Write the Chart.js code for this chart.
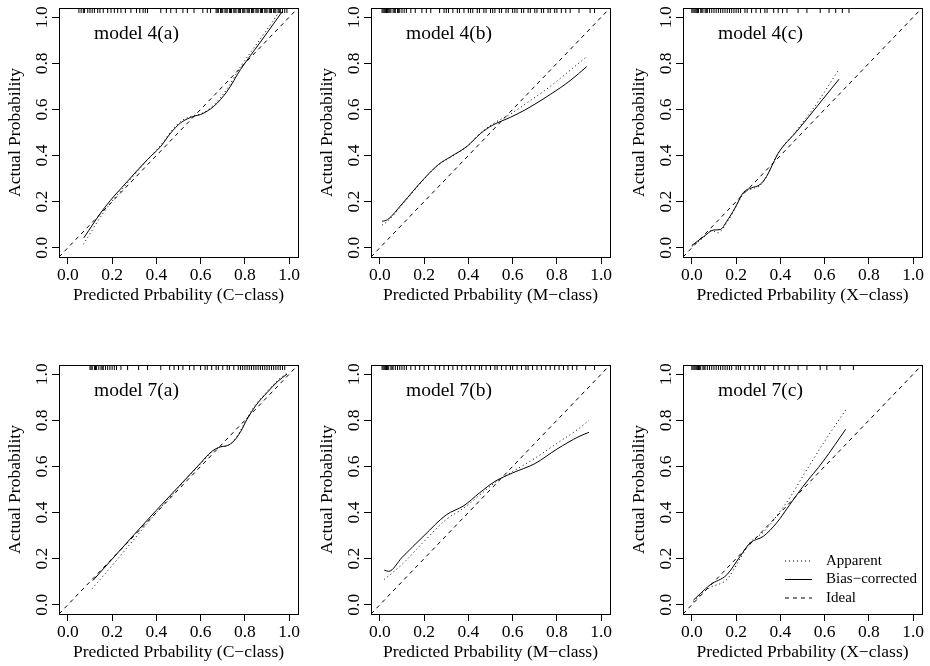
<!DOCTYPE html>
<html>
<head>
<meta charset="utf-8">
<script src="https://cdn.jsdelivr.net/npm/chart.js@4"></script>
<style>
  body { margin: 0; background: #fff; width: 930px; height: 666px; overflow: hidden; position: relative; }
  canvas { position: absolute; }
</style>
</head>
<body>
<canvas id="p0" width="310" height="309" style="left:0px;top:0px"></canvas>
<canvas id="p1" width="310" height="309" style="left:310px;top:0px"></canvas>
<canvas id="p2" width="310" height="309" style="left:620px;top:0px"></canvas>
<canvas id="p3" width="310" height="309" style="left:0px;top:357px"></canvas>
<canvas id="p4" width="310" height="309" style="left:310px;top:357px"></canvas>
<canvas id="p5" width="310" height="309" style="left:620px;top:357px"></canvas>
<script>
// calibration curves: [predicted, actual]
var apparent4a = [[0.07,0.015],[0.165,0.158],[0.27,0.282],[0.36,0.382],[0.42,0.445],[0.465,0.503],[0.51,0.548],[0.57,0.574],[0.60,0.58],[0.66,0.62],[0.72,0.69],[0.78,0.785],[0.84,0.866],[0.90,0.946],[0.96,1.03]];
var biasCorr4a = [[0.072,0.043],[0.165,0.173],[0.27,0.289],[0.36,0.383],[0.42,0.44],[0.465,0.498],[0.51,0.542],[0.57,0.571],[0.60,0.578],[0.66,0.614],[0.72,0.679],[0.78,0.773],[0.84,0.853],[0.90,0.932],[0.97,1.026]];
var apparent4b = [[0.01,0.098],[0.035,0.115],[0.1,0.185],[0.2,0.298],[0.266,0.36],[0.32,0.393],[0.394,0.44],[0.454,0.497],[0.51,0.537],[0.59,0.58],[0.66,0.625],[0.77,0.7],[0.86,0.77],[0.932,0.827]];
var biasCorr4b = [[0.01,0.115],[0.035,0.122],[0.1,0.19],[0.2,0.3],[0.266,0.362],[0.32,0.395],[0.394,0.44],[0.454,0.495],[0.51,0.532],[0.59,0.566],[0.66,0.6],[0.77,0.665],[0.86,0.725],[0.935,0.786]];
var apparent4c = [[0.0,0.005],[0.053,0.045],[0.09,0.075],[0.12,0.065],[0.158,0.11],[0.195,0.17],[0.233,0.235],[0.27,0.255],[0.308,0.27],[0.338,0.31],[0.368,0.37],[0.39,0.41],[0.474,0.51],[0.564,0.625],[0.632,0.725],[0.665,0.775]];
var biasCorr4c = [[0.0,0.01],[0.053,0.048],[0.098,0.077],[0.128,0.079],[0.158,0.115],[0.195,0.173],[0.233,0.24],[0.27,0.26],[0.308,0.274],[0.338,0.31],[0.368,0.368],[0.39,0.41],[0.474,0.505],[0.564,0.611],[0.632,0.692],[0.665,0.731]];
var apparent7a = [[0.11,0.07],[0.2,0.17],[0.3,0.285],[0.4,0.4],[0.5,0.508],[0.6,0.612],[0.65,0.662],[0.69,0.685],[0.72,0.69],[0.75,0.712],[0.78,0.755],[0.81,0.81],[0.85,0.87],[0.9,0.925],[0.95,0.975],[0.99,1.005]];
var biasCorr7a = [[0.113,0.105],[0.2,0.198],[0.3,0.305],[0.4,0.41],[0.5,0.512],[0.6,0.615],[0.65,0.665],[0.69,0.685],[0.72,0.69],[0.75,0.71],[0.78,0.75],[0.81,0.805],[0.85,0.865],[0.9,0.92],[0.95,0.97],[0.99,1.0]];
var apparent7b = [[0.02,0.11],[0.1,0.175],[0.2,0.275],[0.3,0.37],[0.38,0.42],[0.45,0.475],[0.52,0.53],[0.6,0.578],[0.7,0.635],[0.8,0.7],[0.9,0.765],[0.945,0.8]];
var biasCorr7b = [[0.02,0.15],[0.04,0.145],[0.1,0.205],[0.2,0.3],[0.3,0.39],[0.38,0.43],[0.45,0.485],[0.52,0.535],[0.6,0.572],[0.7,0.612],[0.8,0.675],[0.9,0.73],[0.945,0.748]];
var apparent7c = [[0.007,0.012],[0.04,0.045],[0.083,0.075],[0.158,0.11],[0.218,0.2],[0.263,0.27],[0.323,0.315],[0.383,0.385],[0.443,0.465],[0.503,0.56],[0.594,0.7],[0.695,0.845]];
var biasCorr7c = [[0.007,0.02],[0.04,0.05],[0.083,0.087],[0.158,0.13],[0.218,0.21],[0.263,0.268],[0.323,0.297],[0.383,0.355],[0.443,0.435],[0.503,0.514],[0.594,0.623],[0.695,0.761]];
var idealLine = [[-0.04,-0.04],[1.04,1.04]];

// rug of predicted probabilities along the top
var rug4a = [0.05,0.06,0.07,0.075,0.09,0.10,0.11,0.12,0.135,0.145,0.16,0.18,0.195,0.21,0.225,0.24,0.26,0.285,0.31,0.325,0.34,0.35,0.36,0.42,0.445,0.465,0.49,0.52,0.54,0.57,0.61,0.63,0.645,
  0.67,0.675,0.68,0.69,0.695,0.70,0.71,0.715,0.72,0.73,0.735,0.74,0.75,0.755,0.76,0.77,0.775,0.78,0.79,0.795,0.80,0.81,0.815,0.82,0.83,0.835,0.84,0.85,0.855,0.86,0.87,0.875,0.88,0.89,0.895,0.90,0.91,0.915,0.92,0.93,0.935,0.94,0.95,0.955,0.96,0.97,0.98,0.99];
var rug4b = [0.01,0.015,0.02,0.025,0.03,0.035,0.04,0.045,0.05,0.06,0.065,0.07,0.08,0.085,0.09,0.1,0.11,0.12,0.14,0.16,0.19,0.21,0.23,0.27,0.29,0.3,0.31,0.33,0.35,0.36,0.38,0.4,0.41,0.42,0.44,0.45,0.47,0.48,0.5,0.51,0.52,0.54,0.55,0.57,0.58,0.6,0.61,0.62,0.64,0.65,0.67,0.68,0.7,0.71,0.73,0.74,0.76,0.77,0.79,0.8,0.82,0.84,0.86,0.9,0.95,0.97];
var rug4c = [0.0,0.005,0.01,0.015,0.02,0.025,0.03,0.04,0.045,0.05,0.06,0.065,0.07,0.08,0.09,0.1,0.11,0.12,0.13,0.14,0.15,0.16,0.17,0.18,0.19,0.2,0.21,0.22,0.24,0.25,0.27,0.29,0.31,0.33,0.34,0.37,0.39,0.41,0.43,0.48,0.52,0.58,0.62,0.65,0.68,0.71];
var rug7a = [0.1,0.105,0.11,0.12,0.125,0.13,0.14,0.15,0.155,0.16,0.17,0.18,0.19,0.2,0.21,0.22,0.24,0.27,0.32,0.36,0.42,0.46,0.48,0.5,0.52,0.55,0.57,0.6,0.62,0.63,0.65,0.67,0.68,0.7,0.72,0.73,0.75,
  0.77,0.78,0.79,0.8,0.81,0.82,0.83,0.84,0.85,0.86,0.87,0.88,0.89,0.9,0.91,0.92,0.93,0.94,0.95,0.96,0.97,0.98];
var rug7b = [0.01,0.015,0.02,0.025,0.03,0.035,0.04,0.05,0.055,0.06,0.07,0.08,0.09,0.1,0.11,0.12,0.14,0.16,0.18,0.2,0.22,0.25,0.27,0.29,0.31,0.33,0.35,0.37,0.39,0.41,0.43,0.45,0.46,0.48,0.5,0.52,0.53,0.55,0.57,0.59,0.6,0.62,0.64,0.66,0.67,0.69,0.71,0.73,0.75,0.77,0.79,0.81,0.83,0.85,0.87,0.89,0.93,0.97];
var rug7c = [0.0,0.005,0.01,0.015,0.02,0.025,0.03,0.035,0.04,0.05,0.055,0.06,0.07,0.08,0.09,0.1,0.11,0.12,0.13,0.14,0.15,0.16,0.17,0.18,0.2,0.21,0.22,0.24,0.26,0.28,0.3,0.31,0.33,0.37,0.39,0.42,0.44,0.48,0.52,0.58,0.61,0.67,0.73];

var tickValues = [0, 0.2, 0.4, 0.6, 0.8, 1.0];
var panelTitles = ["model 4(a)", "model 4(b)", "model 4(c)", "model 7(a)", "model 7(b)", "model 7(c)"];
var xTitles = ["Predicted Prbability (C\u2212class)", "Predicted Prbability (M\u2212class)", "Predicted Prbability (X\u2212class)"];
var legendLabels = ["Apparent", "Bias\u2212corrected", "Ideal"];

var SERIF = "'Liberation Serif', 'DejaVu Serif', serif";

function pts(arr) {
  return arr.map(function (p) { return { x: p[0], y: p[1] }; });
}

var panels = [
  { app: apparent4a, bias: biasCorr4a, rug: rug4a },
  { app: apparent4b, bias: biasCorr4b, rug: rug4b },
  { app: apparent4c, bias: biasCorr4c, rug: rug4c },
  { app: apparent7a, bias: biasCorr7a, rug: rug7a },
  { app: apparent7b, bias: biasCorr7b, rug: rug7b },
  { app: apparent7c, bias: biasCorr7c, rug: rug7c }
];

function drawPanel(i) {
  var col = i % 3;
  var p = panels[i];
  var yW = 59 + 2 * col;

  var decor = {
    id: 'decor' + i,
    afterDraw: function (chart) {
      var ctx = chart.ctx, a = chart.chartArea, ys = chart.scales.y;
      ctx.save();
      // box
      ctx.strokeStyle = '#000';
      ctx.lineWidth = 1;
      ctx.strokeRect(Math.round(a.left) + 0.5, Math.round(a.top) + 0.5, Math.round(a.right - a.left), Math.round(a.bottom - a.top));
      // y tick labels, parallel to the axis
      ctx.fillStyle = '#000';
      ctx.font = '17.5px ' + SERIF;
      ctx.textAlign = 'center';
      ctx.textBaseline = 'middle';
      tickValues.forEach(function (v) {
        ctx.save();
        ctx.translate(a.left - 17, ys.getPixelForValue(v));
        ctx.rotate(-Math.PI / 2);
        ctx.fillText(v.toFixed(1), 0, 0);
        ctx.restore();
      });
      // panel label
      ctx.textAlign = 'left';
      ctx.font = '19.5px ' + SERIF;
      ctx.fillText(panelTitles[i], a.left + 35, a.top + 26);
      // legend in the last panel
      if (i === 5) {
        ctx.font = '15px ' + SERIF;
        for (var k = 0; k < 3; k++) {
          var ds = chart.data.datasets[k];
          var yy = a.top + 196 + k * 18.5;
          ctx.beginPath();
          ctx.setLineDash(ds.borderDash || []);
          ctx.moveTo(a.left + 102, yy);
          ctx.lineTo(a.left + 129, yy);
          ctx.stroke();
          ctx.setLineDash([]);
          ctx.fillText(legendLabels[k], a.left + 143, yy);
        }
      }
      ctx.restore();
    }
  };

  new Chart(document.getElementById('p' + i), {
    type: 'scatter',
    data: {
      datasets: [
        { label: legendLabels[0], data: pts(p.app), showLine: true, borderColor: '#000', borderWidth: 1, borderDash: [1, 3], pointRadius: 0, cubicInterpolationMode: 'monotone' },
        { label: legendLabels[1], data: pts(p.bias), showLine: true, borderColor: '#000', borderWidth: 1, borderDash: [], pointRadius: 0, cubicInterpolationMode: 'monotone' },
        { label: legendLabels[2], data: pts(idealLine), showLine: true, borderColor: '#000', borderWidth: 1, borderDash: [4, 4], pointRadius: 0 },
        { label: 'rug', data: p.rug.map(function (v) { return { x: v, y: 1.029 }; }), showLine: false, pointStyle: 'line', rotation: 90, pointRadius: 2.5, borderColor: '#000', borderWidth: 1 }
      ]
    },
    options: {
      responsive: false,
      animation: false,
      events: [],
      layout: { padding: { top: 8, right: 310 - yW - 239, left: 0, bottom: 0 } },
      plugins: { legend: { display: false }, tooltip: { enabled: false } },
      scales: {
        x: {
          type: 'linear', min: -0.04, max: 1.04,
          afterBuildTicks: function (s) { s.ticks = tickValues.map(function (v) { return { value: v }; }); },
          afterFit: function (s) { s.height = 52; },
          ticks: { callback: function (v) { return v.toFixed(1); }, font: { family: SERIF, size: 17.5 }, color: '#000', padding: 1, maxRotation: 0, autoSkip: false },
          grid: { drawOnChartArea: false, drawTicks: true, tickLength: 7, color: '#000', lineWidth: 1 },
          border: { display: false },
          title: { display: true, text: xTitles[col], font: { family: SERIF, size: 17.5 }, color: '#000', padding: { top: 0, bottom: 3.5 } }
        },
        y: {
          type: 'linear', min: -0.04, max: 1.04,
          afterBuildTicks: function (s) { s.ticks = tickValues.map(function (v) { return { value: v }; }); },
          afterFit: function (s) { s.width = yW; },
          ticks: { display: false },
          grid: { drawOnChartArea: false, drawTicks: true, tickLength: 7, color: '#000', lineWidth: 1 },
          border: { display: false },
          title: { display: true, text: 'Actual Probability', font: { family: SERIF, size: 17.5 }, color: '#000', padding: { top: 4.5 + 2 * col, bottom: 0 } }
        }
      }
    },
    plugins: [decor]
  });
}

for (var i = 0; i < 6; i++) drawPanel(i);
</script>
</body>
</html>
